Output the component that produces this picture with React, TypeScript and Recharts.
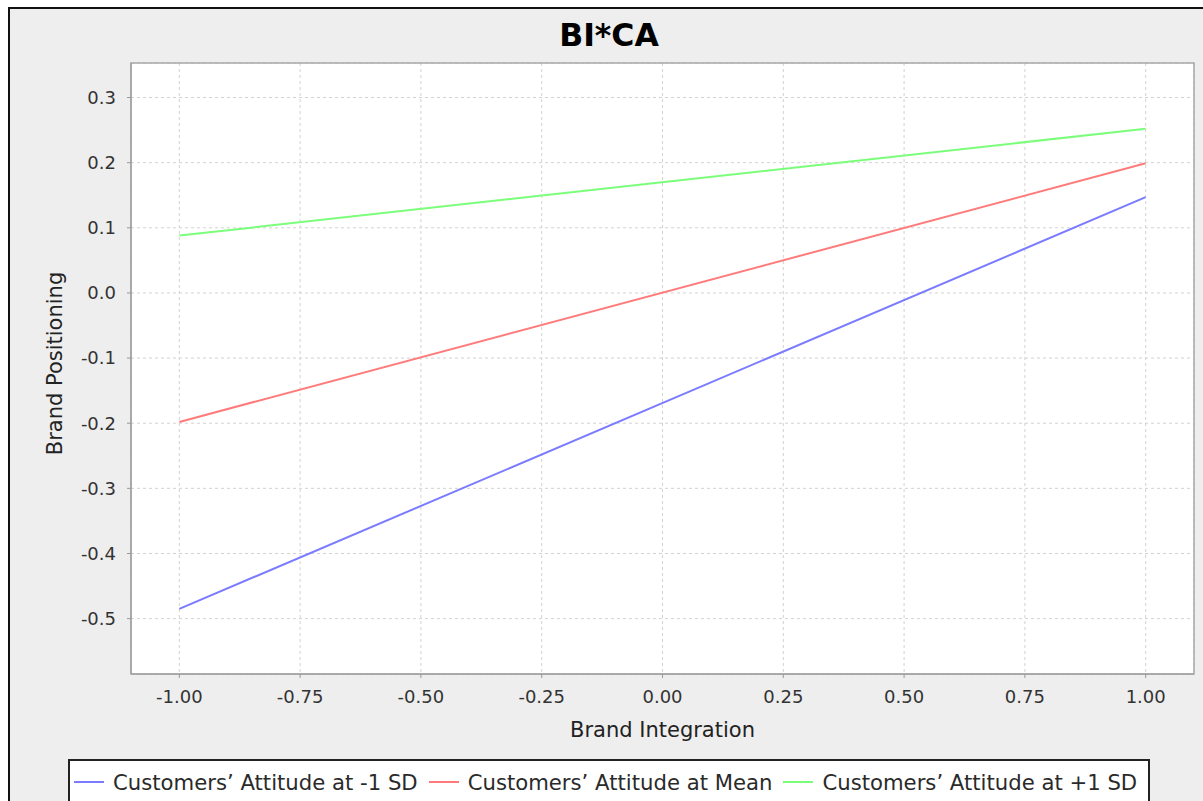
import { CartesianGrid, Legend, Line, LineChart, ReferenceArea, XAxis, YAxis } from "recharts"

// x values (Brand Integration)
const xValues = [-1, 1]

// Brand Positioning at each x, one list per moderator level
const lowValues = [-0.485, 0.147]
const meanValues = [-0.198, 0.199]
const highValues = [0.088, 0.252]

const seriesNames = [
  "Customers\u2019 Attitude at -1 SD",
  "Customers\u2019 Attitude at Mean",
  "Customers\u2019 Attitude at +1 SD",
]
const seriesKeys = ["low", "mean", "high"]
const seriesColors = ["#7b7bff", "#ff7b7b", "#7bff7b"]

const xTicks = [-1, -0.75, -0.5, -0.25, 0, 0.25, 0.5, 0.75, 1]
const yTicks = [-0.5, -0.4, -0.3, -0.2, -0.1, 0, 0.1, 0.2, 0.3]
const xDomain = [-1.1, 1.1]
const yDomain = [-0.585, 0.353]

const data = xValues.map((x, i) => ({
  x,
  low: lowValues[i],
  mean: meanValues[i],
  high: highValues[i],
}))

const FONT = "'DejaVu Sans', sans-serif"

function LegendBox() {
  return (
    <div
      style={{
        boxSizing: "border-box",
        width: 1082,
        height: 50,
        border: "2px solid #222",
        background: "#fff",
        fontFamily: FONT,
        fontSize: 21.2,
        color: "#2a2a2a",
      }}
    >
      <div style={{ height: 42, display: "flex", alignItems: "center", paddingLeft: 4 }}>
        {seriesNames.map((name, i) => (
          <div key={name} style={{ display: "flex", alignItems: "center", marginRight: 11 }}>
            <span style={{ display: "inline-block", width: 30, height: 2, background: seriesColors[i], marginRight: 9 }} />
            <span style={{ whiteSpace: "nowrap" }}>{name}</span>
          </div>
        ))}
      </div>
    </div>
  )
}

export default function App() {
  return (
    <div style={{ position: "absolute", left: 0, top: 0, width: 1203, height: 801, overflow: "hidden", background: "#fff" }}>
      {/* grey panel with the dark frame on the left and top */}
      <div
        style={{
          position: "absolute",
          left: 8,
          top: 7,
          width: 1210,
          height: 810,
          borderLeft: "2px solid #111",
          borderTop: "2px solid #111",
          background: "#eeeeee",
        }}
      />
      <div
        style={{
          position: "absolute",
          left: 409,
          top: 17,
          width: 400,
          textAlign: "center",
          fontFamily: FONT,
          fontWeight: "bold",
          fontSize: 31.5,
          lineHeight: "36px",
          color: "#000",
        }}
      >
        BI*CA
      </div>
      <div style={{ position: "absolute", left: 0, top: 0 }}>
        <LineChart
          width={1203}
          height={801}
          data={data}
          margin={{ top: 63, right: 9, bottom: 67, left: 0 }}
          style={{ fontFamily: FONT }}
        >
          <CartesianGrid stroke="#d2d2d2" strokeDasharray="3 3" fill="#fff" />
          <ReferenceArea
            x1={xDomain[0]}
            x2={xDomain[1]}
            y1={yDomain[0]}
            y2={yDomain[1]}
            fill="none"
            stroke="#a8a8a8"
            strokeWidth={1.5}
          />
          <XAxis
            type="number"
            dataKey="x"
            domain={xDomain}
            ticks={xTicks}
            tickFormatter={(v: number) => v.toFixed(2)}
            height={60}
            stroke="#999"
            tickSize={4}
            tickMargin={12}
            tick={{ fill: "#333", fontSize: 18 }}
            label={{
              content: ({ viewBox }: any) => (
                <text
                  x={viewBox.x + viewBox.width / 2}
                  y={viewBox.y + 63}
                  textAnchor="middle"
                  fontSize={21}
                  fill="#222"
                  fontFamily={FONT}
                >
                  Brand Integration
                </text>
              ),
            }}
          />
          <YAxis
            type="number"
            domain={yDomain}
            ticks={yTicks}
            tickFormatter={(v: number) => v.toFixed(1)}
            width={131}
            stroke="#999"
            tickSize={4}
            tickMargin={11}
            tick={{ fill: "#333", fontSize: 18 }}
            label={{
              content: ({ viewBox }: any) => {
                const cx = viewBox.x + 62
                const cy = viewBox.y + viewBox.height / 2 - 5
                return (
                  <text
                    x={cx}
                    y={cy}
                    transform={`rotate(-90, ${cx}, ${cy})`}
                    textAnchor="middle"
                    fontSize={21}
                    fill="#222"
                    fontFamily={FONT}
                  >
                    Brand Positioning
                  </text>
                )
              },
            }}
          />
          {seriesKeys.map((key, i) => (
            <Line
              key={key}
              type="linear"
              dataKey={key}
              name={seriesNames[i]}
              stroke={seriesColors[i]}
              strokeWidth={2}
              dot={false}
              isAnimationActive={false}
            />
          ))}
          <Legend
            layout="horizontal"
            verticalAlign="middle"
            align="center"
            content={() => <LegendBox />}
            wrapperStyle={{ left: 68, top: 759, width: 1082, height: 50 }}
          />
        </LineChart>
      </div>
    </div>
  )
}
